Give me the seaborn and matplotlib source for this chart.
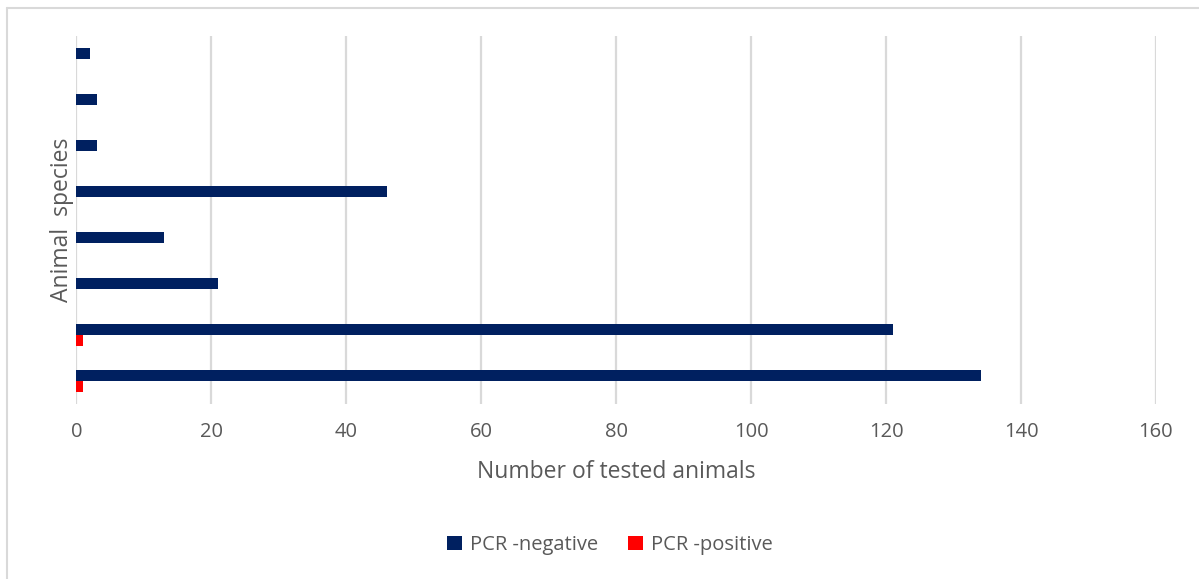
import matplotlib
matplotlib.use("Agg")
import matplotlib.pyplot as plt
from matplotlib.lines import Line2D
from matplotlib.patches import Patch
import pandas as pd
import seaborn as sns

# Counts per species group (top to bottom), split by PCR result
species = ["Species 1", "Species 2", "Species 3", "Species 4",
           "Species 5", "Species 6", "Species 7", "Species 8"]
pcr_negative = [2, 3, 3, 46, 13, 21, 121, 134]
pcr_positive = [0, 0, 0, 0, 0, 0, 1, 1]
results = ["PCR -negative", "PCR -positive"]
colors = ["#002060", "#FF0000"]
x_ticks = [0, 20, 40, 60, 80, 100, 120, 140, 160]

df = pd.DataFrame({
    "species": species * 2,
    "count": pcr_negative + pcr_positive,
    "result": [results[0]] * len(species) + [results[1]] * len(species),
})

sns.set_theme(style="white")
plt.rcParams["font.family"] = ["Open Sans", "DejaVu Sans"]

fig = plt.figure(figsize=(11.99, 5.79), dpi=100)
ax = fig.add_axes([0.0638, 0.3022, 0.9003, 0.6356])

sns.barplot(data=df, y="species", x="count", hue="result", orient="h",
            order=species, hue_order=results, palette=colors,
            width=0.48, linewidth=0, saturation=1, ax=ax, legend=False)

ax.set_xlim(0, 160)
ax.set_ylim(len(species) - 0.5, -0.5)
ax.set_xticks(x_ticks)
ax.set_xticklabels([str(t) for t in x_ticks], fontsize=14.5, color="#595959")
ax.set_yticks([])
ax.tick_params(axis="x", length=0, pad=13)
ax.grid(axis="x", color="#d9d9d9", linewidth=1.6)
ax.set_axisbelow(True)
for s in ax.spines.values():
    s.set_visible(False)

ax.set_xlabel("Number of tested animals", fontsize=16.5, color="#595959", labelpad=13)
ax.set_ylabel("Animal  species", fontsize=16.5, color="#595959", labelpad=2)

handles = [Patch(facecolor=c, edgecolor="none") for c in colors]
fig.legend(handles, results, loc="center", bbox_to_anchor=(610 / 1199, 1 - 545 / 579),
           ncol=2, frameon=False, fontsize=14.5, labelcolor="#595959",
           handlelength=0.75, handleheight=0.75, handletextpad=0.4, columnspacing=1.5)

# Chart-area frame lines along the top and left edges
fig.add_artist(Line2D([7 / 1199, 1], [1 - 7.5 / 579] * 2, color="#d9d9d9", linewidth=1.5,
                      transform=fig.transFigure))
fig.add_artist(Line2D([7 / 1199] * 2, [0, 1 - 7.5 / 579], color="#d9d9d9", linewidth=1.5,
                      transform=fig.transFigure))

fig.savefig("out.png", dpi=100, facecolor="white")
